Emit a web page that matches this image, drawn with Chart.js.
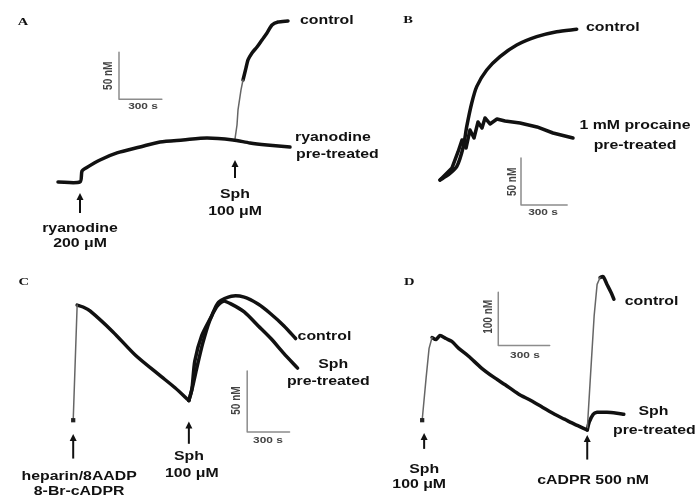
<!DOCTYPE html>
<html>
<head>
<meta charset="utf-8">
<script src="https://cdn.jsdelivr.net/npm/chart.js@4.4.0/dist/chart.umd.min.js"></script>
<style>
  html, body { margin: 0; padding: 0; background: #fff; }
  #fig { position: relative; width: 699px; height: 497px; overflow: hidden; }
  #fig canvas { position: absolute; left: 0; top: 0; }
</style>
</head>
<body>
<div id="fig">
  <canvas id="panelA" width="699" height="497"></canvas>
  <canvas id="panelB" width="699" height="497"></canvas>
  <canvas id="panelC" width="699" height="497"></canvas>
  <canvas id="panelD" width="699" height="497"></canvas>
</div>
<script>
// time in s, [Ca2+] in nM

// A - ryanodine then Sph
const aRyanT = [-154, 0, 14, 42, 140, 259, 420, 560, 721, 889, 1071, 1190, 1309, 1470];
const aRyanC = [100, 100, 111.7, 114.9, 123.4, 130.9, 137.2, 142.6, 144.7, 146.8, 144.7, 141.5, 139.4, 137.2];
const aRiseT = [1085, 1099, 1106, 1127, 1141];
const aRiseC = [145.8, 160.6, 176.6, 197.9, 208.5];
const aCtrlT = [1141, 1162, 1176, 1204, 1239, 1274, 1309, 1344, 1386, 1456];
const aCtrlC = [208.5, 221.3, 229.8, 237.3, 243.6, 251.1, 258.5, 267, 270.2, 271.3];
const aBarT = [273, 273, 573];
const aBarC = [238, 188, 188];

// B - control vs procaine
const bCtrlT = [0, 52, 108.6, 151.5, 173.6, 206, 238.6, 303.6, 390, 498.6, 628.6, 758.6, 888.6];
const bCtrlC = [100, 105.3, 114.2, 135.4, 156.7, 181.6, 199.3, 217, 231.2, 243.6, 252.5, 257.8, 260.3];
const bProcT = [0, 78, 117, 143, 169, 195, 221, 247, 273, 292.5, 325, 370.5, 422.5, 520, 630.5, 734.5, 864.5];
const bProcC = [100, 112.8, 129.8, 142.6, 134, 153.2, 144.7, 161.7, 155.3, 166, 159.6, 164.9, 162.8, 160.6, 156.4, 150, 144.7];
const bBarT = [526.5, 526.5, 826.5];
const bBarC = [123.4, 73.4, 73.4];

// C - heparin/8AADP/8-Br-cADPR then Sph
const cRiseT = [0, 28];
const cRiseC = [100, 194.3];
const cDecayT = [28, 70, 119, 280, 441, 609, 721, 819];
const cDecayC = [194.3, 192.7, 189.5, 172.5, 153.2, 137.1, 126.6, 116.1];
const cCtrlT = [819, 840, 861, 910, 980, 1029, 1120, 1211, 1309, 1400, 1491, 1575];
const cCtrlC = [116.1, 125, 148.4, 169.3, 185.4, 196.7, 201.6, 200.8, 195.1, 187, 177.4, 166.9];
const cSphT = [819, 847, 875, 917, 966, 1015, 1064, 1120, 1211, 1309, 1400, 1491, 1589];
const cSphC = [116.1, 128.2, 142.7, 162.9, 181.4, 192.7, 197.5, 195.1, 188.7, 177.4, 166.9, 154.8, 142.7];
const cBarT = [1232, 1232, 1532];
const cBarC = [140.3, 90.3, 90.3];

// D - Sph then cADPR
const dRiseT = [-11.5, 11.5, 28.8, 46.2];
const dRiseC = [150, 229.6, 285.2, 305.6];
const dDecayT = [46.2, 69.2, 92.3, 126.9, 161.5, 201.9, 259.6, 334.6, 403.8, 473.1, 548.1, 623.1, 692.3, 761.5, 819.2, 876.9, 951.9];
const dDecayC = [305.6, 301.9, 309.3, 303.7, 298.2, 285.2, 270.4, 248.2, 231.5, 216.7, 200, 187, 174.1, 161.1, 151.9, 142.6, 131.5];
const dCtrlRiseT = [951.9, 969.2, 992.3, 1009.6, 1026.9];
const dCtrlRiseC = [131.5, 224.1, 346.3, 405.6, 418.5];
const dCtrlT = [1026.9, 1044.2, 1067.3, 1090.4, 1107.7];
const dCtrlC = [418.5, 420.4, 405.6, 390.8, 377.8];
const dSphT = [951.9, 963.5, 986.5, 1009.6, 1067.3, 1125, 1165.4];
const dSphC = [131.5, 146.3, 161.1, 164.8, 164.8, 163, 161.1];
const dBarT = [432.7, 432.7, 732.7];
const dBarC = [390.8, 290.8, 290.8];

const pts = (ts, cs) => ts.map((t, i) => ({ x: t, y: cs[i] }));

function trace(ts, cs, kind, dots) {
  const style = {
    thick: { borderColor: '#111', borderWidth: 3.5, tension: 0.25 },
    jag:   { borderColor: '#111', borderWidth: 3.5, tension: 0 },
    thin:  { borderColor: '#666', borderWidth: 1.5, tension: 0 },
    bar:   { borderColor: '#8c8c8c', borderWidth: 1.5, tension: 0 }
  }[kind];
  return Object.assign({
    data: pts(ts, cs),
    pointRadius: dots || 0,
    pointStyle: 'rect',
    pointBackgroundColor: '#222',
    pointBorderWidth: 0,
    borderCapStyle: 'round',
    borderJoinStyle: 'round',
    clip: false
  }, style);
}

const FONT = '"Liberation Sans", Arial, sans-serif';
const STRETCH = 1.32;

function notesPlugin(notes) {
  return {
    id: 'notes',
    afterDatasetsDraw(chart) {
      const { ctx, scales: { x, y } } = chart;
      ctx.save();
      notes.forEach(n => {
        const px = x.getPixelForValue(n.t);
        if (n.arrow) {
          const y0 = y.getPixelForValue(n.from), y1 = y.getPixelForValue(n.to);
          ctx.strokeStyle = '#111';
          ctx.fillStyle = '#111';
          ctx.lineWidth = 2;
          ctx.beginPath();
          ctx.moveTo(px, y0);
          ctx.lineTo(px, y1 + 5);
          ctx.stroke();
          ctx.beginPath();
          ctx.moveTo(px, y1);
          ctx.lineTo(px - 3.5, y1 + 7);
          ctx.lineTo(px + 3.5, y1 + 7);
          ctx.closePath();
          ctx.fill();
          return;
        }
        const py = y.getPixelForValue(n.c);
        ctx.save();
        ctx.translate(px, py);
        if (n.vertical) {
          ctx.rotate(-Math.PI / 2);
          ctx.scale(1, STRETCH);
        } else {
          ctx.scale(STRETCH, 1);
        }
        ctx.fillStyle = n.color || '#111';
        ctx.font = n.font || ('bold 12px ' + FONT);
        ctx.textAlign = n.align || 'center';
        ctx.textBaseline = 'middle';
        ctx.fillText(n.text, 0, 0);
        ctx.restore();
      });
      ctx.restore();
    }
  };
}

const LETTER = 'bold 11px "Liberation Serif", "Times New Roman", serif';
const SMALL = 'bold 9px ' + FONT;
const VSMALL = 'bold 10px ' + FONT;

function panel(id, box, xr, yr, datasets, notes) {
  new Chart(document.getElementById(id), {
    type: 'line',
    data: { datasets },
    options: {
      responsive: false,
      animation: false,
      devicePixelRatio: 1,
      events: [],
      layout: { padding: { left: box[0], top: box[1], right: 699 - box[2], bottom: 497 - box[3] } },
      scales: {
        x: { type: 'linear', min: xr[0], max: xr[1], display: false },
        y: { type: 'linear', min: yr[0], max: yr[1], display: false }
      },
      plugins: { legend: { display: false }, tooltip: { enabled: false } }
    },
    plugins: [notesPlugin(notes)]
  });
}

panel('panelA', [0, 0, 350, 250], [-560, 1890], [27.6, 293.6], [
  trace(aBarT, aBarC, 'bar'),
  trace(aRyanT, aRyanC, 'thick'),
  trace(aRiseT, aRiseC, 'thin'),
  trace(aCtrlT, aCtrlC, 'thick')
], [
  { t: -399, c: 270, text: 'A', font: LETTER },
  { t: 1540, c: 272, text: 'control', align: 'left' },
  { t: 1505, c: 146.8, text: 'ryanodine', align: 'left' },
  { t: 1512, c: 128.7, text: 'pre-treated', align: 'left' },
  { arrow: true, t: 0, from: 67, to: 88.3 },
  { t: 0, c: 50, text: 'ryanodine' },
  { t: 0, c: 34, text: '200 μM' },
  { arrow: true, t: 1085, from: 104.3, to: 123.4 },
  { t: 1085, c: 86.2, text: 'Sph' },
  { t: 1085, c: 68.1, text: '100 μM' },
  { t: 196, c: 213, text: '50 nM', vertical: true, font: VSMALL, color: '#444' },
  { t: 441, c: 180, text: '300 s', font: SMALL, color: '#444' }
]);

panel('panelB', [350, 0, 699, 250], [-585, 1683.5], [25.5, 291.5], [
  trace(bBarT, bBarC, 'bar'),
  trace(bProcT, bProcC, 'jag'),
  trace(bCtrlT, bCtrlC, 'thick')
], [
  { t: -208, c: 270.2, text: 'B', font: LETTER },
  { t: 949, c: 261.7, text: 'control', align: 'left' },
  { t: 1267.5, c: 157.5, text: '1 mM procaine' },
  { t: 1267.5, c: 136.2, text: 'pre-treated' },
  { t: 468, c: 97.9, text: '50 nM', vertical: true, font: VSMALL, color: '#444' },
  { t: 669.5, c: 64.9, text: '300 s', font: SMALL, color: '#444' }
]);

panel('panelC', [0, 250, 350, 497], [-490, 1960], [40.4, 239.4], [
  trace(cBarT, cBarC, 'bar'),
  trace(cRiseT, cRiseC, 'thin', [3, 0]),
  trace(cDecayT, cDecayC, 'thick'),
  trace(cSphT, cSphC, 'thick'),
  trace(cCtrlT, cCtrlC, 'thick')
], [
  { t: -350, c: 212.8, text: 'C', font: LETTER },
  { arrow: true, t: 0, from: 68.6, to: 88.7 },
  { t: 42, c: 54, text: 'heparin/8AADP' },
  { t: 42, c: 41.2, text: '8-Br-cADPR' },
  { arrow: true, t: 819, from: 80.7, to: 99 },
  { t: 819, c: 70.2, text: 'Sph' },
  { t: 840, c: 56.5, text: '100 μM' },
  { t: 1589, c: 168.5, text: 'control', align: 'left' },
  { t: 1841, c: 145.1, text: 'Sph' },
  { t: 1806, c: 131.4, text: 'pre-treated' },
  { t: 1155, c: 116.1, text: '50 nM', vertical: true, font: VSMALL, color: '#444' },
  { t: 1379, c: 83.1, text: '300 s', font: SMALL, color: '#444' }
]);

panel('panelD', [350, 250, 699, 497], [-432.75, 1581], [12.95, 470.4], [
  trace(dBarT, dBarC, 'bar'),
  trace(dRiseT, dRiseC, 'thin', [3, 0, 0, 0]),
  trace(dDecayT, dDecayC, 'thick'),
  trace(dCtrlRiseT, dCtrlRiseC, 'thin'),
  trace(dCtrlT, dCtrlC, 'thick'),
  trace(dSphT, dSphC, 'thick')
], [
  { t: -86.5, c: 409.3, text: 'D', font: LETTER },
  { t: 1171, c: 372.2, text: 'control', align: 'left' },
  { t: 1338.5, c: 166.7, text: 'Sph' },
  { t: 1344, c: 129.6, text: 'pre-treated' },
  { arrow: true, t: 0, from: 96, to: 126 },
  { t: 0, c: 57.4, text: 'Sph' },
  { t: -28.8, c: 27.8, text: '100 μM' },
  { arrow: true, t: 952, from: 75.9, to: 122.2 },
  { t: 986.6, c: 37, text: 'cADPR 500 nM' },
  { t: 375, c: 344.5, text: '100 nM', vertical: true, font: VSMALL, color: '#444' },
  { t: 588.5, c: 272.2, text: '300 s', font: SMALL, color: '#444' }
]);
</script>
</body>
</html>
